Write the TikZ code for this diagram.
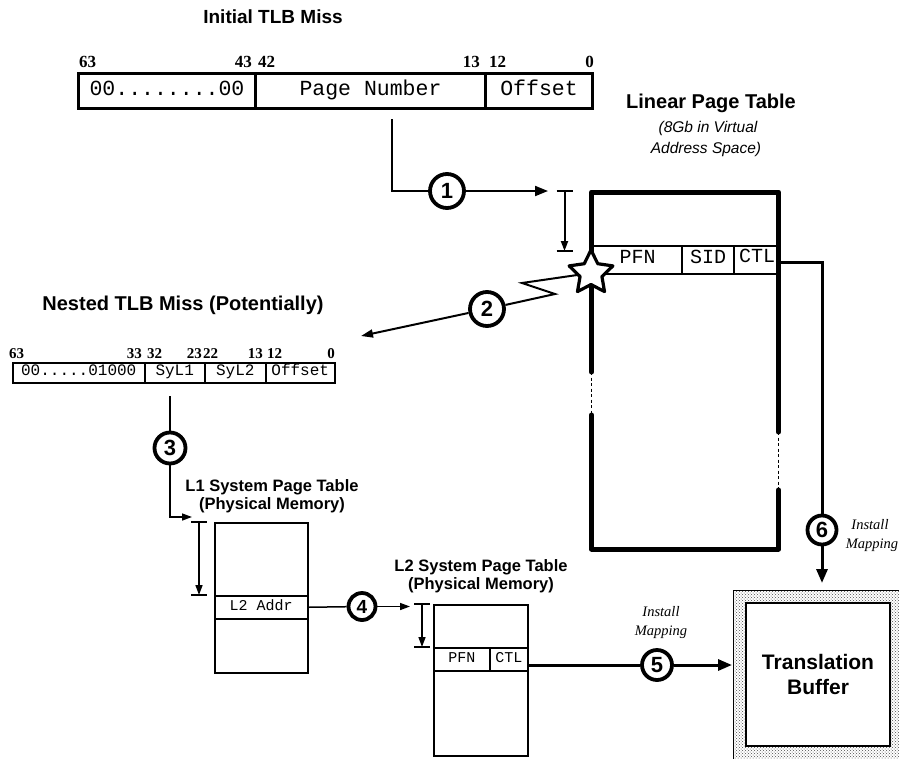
\documentclass[tikz,border=0pt]{standalone}
\usepackage{fontspec}
\setmainfont{Liberation Sans}
\newfontfamily\courfont{Liberation Mono}
\newfontfamily\timesfont{Liberation Serif}
\usetikzlibrary{arrows.meta,shapes.geometric,patterns}
\pgfdeclarelayer{bg}\pgfsetlayers{bg,main}
\begin{document}
\begin{tikzpicture}[x=1pt,y=-1pt,
  ttl/.style={font=\fontsize{20}{24}\selectfont\bfseries, inner sep=0pt},
  sttl/.style={font=\fontsize{16.5}{19}\selectfont\bfseries, inner sep=0pt},
  itl/.style={font=\fontsize{15.5}{18}\selectfont\itshape, inner sep=0pt},
  tital/.style={font=\timesfont\fontsize{14.5}{17}\selectfont\itshape, inner sep=0pt},
  regA/.style={draw, line width=3pt, inner sep=0pt, text height=12.5pt, text depth=4.3pt, minimum height=35pt, anchor=north west, font=\courfont\fontsize{21.5}{21.5}\selectfont},
  regB/.style={draw, line width=1.5pt, inner sep=0pt, text height=9.3pt, text depth=3.2pt, minimum height=20pt, anchor=north west, font=\courfont\fontsize{16}{16}\selectfont},
  bitA/.style={inner sep=0pt, font=\timesfont\fontsize{17}{17}\selectfont\bfseries},
  bitB/.style={inner sep=0pt, font=\timesfont\fontsize{15}{15}\selectfont\bfseries},
  lcell/.style={draw, line width=2pt, inner sep=0pt, text height=11.6pt, text depth=4pt, minimum height=28pt, anchor=north west, font=\courfont\fontsize{20}{20}\selectfont},
  scell/.style={draw, line width=1.5pt, inner sep=0pt, text height=8.7pt, text depth=3pt, anchor=north west, font=\courfont\fontsize{15}{15}\selectfont},
  frame/.style={line width=5pt, line cap=round, line join=round},
  conn/.style={line width=2pt},
  arr/.style={line width=2pt, -{Triangle[length=13pt,width=10pt]}},
  sarr/.style={line width=1.5pt, -{Triangle[length=10pt,width=7pt]}},
  circ/.style={circle, draw, line width=3.8pt, fill=white, inner sep=0pt, minimum size=#1, font=\fontsize{22}{22}\selectfont\bfseries},
  circ/.default=30pt
]
\useasboundingbox (0,0) rectangle (899,758);

% ---------- Initial TLB miss register ----------
\node[ttl, font=\fontsize{19}{22}\selectfont\bfseries] (t1) at (273,17) {Initial TLB Miss};
\node[regA, minimum width=177pt] (ra) at (77,72) {00........00};
\node[regA, minimum width=230pt] (rb) at (254,72) {Page Number};
\node[regA, minimum width=107pt] (rc) at (484,72) {Offset};
\node[bitA, anchor=base west] (a63) at (79,67) {63};
\node[bitA, anchor=base east] (a43) at (252,67) {43};
\node[bitA, anchor=base west] (a42) at (258,67) {42};
\node[bitA, anchor=base east] (a13) at (480,67) {13};
\node[bitA, anchor=base west] (a12) at (489,67) {12};
\node[bitA, anchor=base east] (a0) at (594,67) {0};

% ---------- Linear page table ----------
\node[ttl] (lt1) at (711,103) {Linear Page Table};
\node[itl] (lt2) at (708,128) {(8Gb in Virtual};
\node[itl] (lt3) at (706,149) {Address Space)};
\node[lcell, minimum width=89pt] (pfn) at (592,245) {PFN};
\node[lcell, minimum width=52pt] (sid) at (681,245) {SID};
\node[lcell, minimum width=45pt] (ctl) at (733,245) {};
\node[inner sep=0pt, text height=11.6pt, text depth=4pt, anchor=west, font=\courfont\fontsize{20}{20}\selectfont] (ctltxt) at (739,259) {CTL};
\draw[frame] (591.5,372) -- (591.5,192) -- (778.5,192) -- (778.5,432);
\draw[frame] (591.5,415) -- (591.5,549) -- (778.5,549) -- (778.5,490);
\draw[line width=1.5pt, dash pattern=on 3pt off 2.5pt] (591.5,372) -- (591.5,415);
\draw[line width=1.5pt, dash pattern=on 3pt off 2.5pt] (778.5,432) -- (778.5,490);
\node[star, star points=5, star point ratio=2.0, draw, line width=3.2pt, line join=round, fill=white, inner sep=0pt, minimum size=46pt] (st) at (591,273) {};

% bracket 1
\coordinate (k1t) at (564.5,191);
\coordinate (k1b) at (564.5,251);
\draw[line width=2pt] ([xshift=-8pt]k1t) -- ([xshift=8pt]k1t);
\draw[line width=2pt] ([xshift=-8pt]k1b) -- ([xshift=8pt]k1b);
\draw[sarr, line width=2pt] (k1t) -- (k1b);

% ---------- Nested TLB miss register ----------
\node[ttl] (t2) at (183,305) {Nested TLB Miss (Potentially)};
\node[regB, minimum width=132pt] (na) at (12,362) {00.....01000};
\node[regB, minimum width=60pt] (nb) at (144,362) {SyL1};
\node[regB, minimum width=61pt] (nc) at (204,362) {SyL2};
\node[regB, minimum width=69pt] (nd) at (265,362) {Offset};
\node[bitB, anchor=base west] (n63) at (9,358) {63};
\node[bitB, anchor=base east] (n33) at (142,358) {33};
\node[bitB, anchor=base west] (n32) at (147,358) {32};
\node[bitB, anchor=base east] (n23) at (202,358) {23};
\node[bitB, anchor=base west] (n22) at (203,358) {22};
\node[bitB, anchor=base east] (n13) at (263,358) {13};
\node[bitB, anchor=base west] (n12) at (267,358) {12};
\node[bitB, anchor=base east] (n0) at (335,358) {0};

% ---------- L1 system page table ----------
\node[sttl] (l1a) at (272,487) {L1 System Page Table};
\node[sttl] (l1b) at (272,505) {(Physical Memory)};
\node[scell, minimum width=93pt, minimum height=150pt] (l1box) at (214,522) {};
\node[scell, minimum width=93pt, minimum height=23pt] (l2addr) at (214,595) {L2 Addr};
\coordinate (k2t) at (199,522);
\coordinate (k2b) at (199,595);
\draw[line width=1.5pt] ([xshift=-8pt]k2t) -- ([xshift=8pt]k2t);
\draw[line width=1.5pt] ([xshift=-8pt]k2b) -- ([xshift=8pt]k2b);
\draw[sarr] (k2t) -- (k2b);

% ---------- L2 system page table ----------
\node[sttl] (l2a) at (481,567) {L2 System Page Table};
\node[sttl] (l2b) at (481,585) {(Physical Memory)};
\node[scell, minimum width=94pt, minimum height=151pt] (l2box) at (433,604) {};
\node[scell, minimum width=56pt, minimum height=23pt] (l2pfn) at (433,647) {PFN};
\node[scell, minimum width=38pt, minimum height=23pt] (l2ctl) at (489,647) {CTL};
\coordinate (k3t) at (422,604);
\coordinate (k3b) at (422,647);
\draw[line width=1.5pt] ([xshift=-8pt]k3t) -- ([xshift=8pt]k3t);
\draw[line width=1.5pt] ([xshift=-8pt]k3b) -- ([xshift=8pt]k3b);
\draw[sarr] (k3t) -- (k3b);

% ---------- Translation buffer ----------
\node[draw, line width=1pt, pattern=crosshatch dots, pattern color=black!70, minimum width=180pt, minimum height=180pt, anchor=north west, inner sep=0pt] (tbo) at (733,590) {};
\node[draw, line width=2pt, fill=white, minimum width=144pt, minimum height=143pt, inner sep=0pt, align=center, font=\fontsize{21}{25}\selectfont\bfseries] (tb) at (818,674.5) {Translation\\Buffer};

% ---------- circles ----------
\node[circ=34pt] (c1) at (447,191) {1};
\node[circ=34pt] (c2) at (487,309) {2};
\node[circ=31pt] (c3) at (170,448) {3};
\node[circ=27pt, font=\fontsize{19}{19}\selectfont\bfseries] (c4) at (362,606.5) {4};
\node[circ=30pt] (c5) at (657,665) {5};
\node[circ=29pt] (c6) at (822,530) {6};

\node[tital] (im1) at (661,612) {Install};
\node[tital] (im2) at (661,632) {Mapping};
\node[tital] (im3) at (870,525) {Install};
\node[tital] (im4) at (872,545) {Mapping};

% ---------- connectors ----------
\coordinate (s1) at (392,119);
\coordinate (e1) at (548,191);
\coordinate (z1) at (522,283);
\coordinate (z2) at (555,294);
\coordinate (e2) at (361,336);
\coordinate (s3) at (170,396);
\coordinate (e3) at (192,517);
\coordinate (e4) at (410,606.5);
\coordinate (s5) at (527,665);
\coordinate (e5) at (732,665);
\coordinate (s6) at (781,262);
\coordinate (e6) at (822,583);
\begin{pgfonlayer}{bg}
\draw[conn] (s1) |- (c1);
\draw[arr] (c1) -- (e1);
\draw[conn] (st.center) -- (z1) -- (z2) -- (c2);
\draw[conn, -{Triangle[length=12pt,width=8pt]}] (c2) -- (e2);
\draw[line width=1.5pt] (s3) -- (c3);
\draw[sarr] (c3) |- (e3);
\draw[line width=1.5pt] (l2addr.east) -- (c4);
\draw[sarr] (c4) -- (e4);
\draw[line width=3pt] (s5) -- (c5);
\draw[line width=3pt, -{Triangle[length=14pt,width=11pt]}] (c5) -- (e5);
\draw[line width=3pt] (s6) -| (c6);
\draw[line width=3pt, -{Triangle[length=14pt,width=11pt]}] (c6) -- (e6);
\end{pgfonlayer}
\end{tikzpicture}
\end{document}
